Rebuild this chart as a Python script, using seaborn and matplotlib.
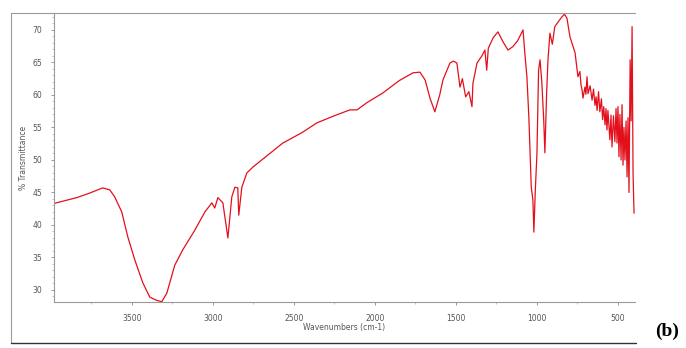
import matplotlib
matplotlib.use("Agg")
import matplotlib.pyplot as plt
import seaborn as sns
import pandas as pd
from matplotlib.lines import Line2D

wavenumbers = [3981, 3840, 3760, 3680, 3636, 3605, 3562, 3525, 3481, 3432, 3389, 3346, 3315,
               3284, 3235, 3185, 3111, 3049, 3006, 2988, 2969, 2938, 2907, 2883, 2864, 2846,
               2840, 2821, 2790, 2753, 2648, 2568, 2450, 2358, 2250, 2154, 2110, 2050, 1951,
               1850, 1765, 1722, 1690, 1660, 1630, 1600, 1580, 1537, 1515, 1494, 1475, 1460,
               1440, 1420, 1401, 1395, 1370, 1340, 1321, 1310, 1300, 1270, 1241, 1210, 1179,
               1150, 1120, 1086, 1075, 1062, 1050, 1035, 1025, 1019, 1010, 1000, 990, 981,
               970, 958, 951, 940, 932, 920, 905, 890, 870, 846, 830, 815, 796, 765, 747,
               735, 728, 722, 716, 704, 698, 691, 685, 672, 660,
               651, 642, 635, 629, 620, 612, 602, 595, 588, 580,
               574, 568, 562, 550, 543, 537, 528, 519, 512, 506,
               500, 494, 488, 481, 475, 469, 463, 457, 450, 444,
               438, 432, 425, 419, 413, 407, 401]
transmittance = [43.3, 44.2, 44.9, 45.7, 45.4, 44.3, 42.0, 38.2, 34.6, 31.1, 28.9, 28.4, 28.2,
                 29.5, 33.8, 36.2, 39.2, 42.0, 43.4, 42.6, 44.2, 43.4, 38.0, 44.3, 45.8, 45.7,
                 41.5, 45.8, 48.0, 48.9, 51.0, 52.6, 54.2, 55.7, 56.8, 57.7, 57.7, 58.8, 60.3,
                 62.2, 63.4, 63.5, 62.3, 59.5, 57.4, 60.0, 62.3, 64.9, 65.2, 64.9, 61.2, 62.5,
                 59.7, 60.5, 58.2, 61.8, 64.9, 66.0, 66.9, 63.8, 67.2, 68.8, 69.7, 68.2, 66.9,
                 67.4, 68.3, 70.0, 66.5, 62.8, 56.6, 45.8, 43.8, 38.9, 45.4, 51.0, 63.8, 65.4,
                 62.0, 56.0, 51.1, 60.5, 65.4, 69.5, 67.8, 70.5, 71.2, 72.0, 72.4, 71.8, 68.9,
                 66.5, 62.8,
                 63.6, 61.5, 60.8, 59.5, 61.2, 60.1, 62.8, 60.2, 61.4, 59.2,
                 60.9, 58.4, 59.7, 57.6, 60.5, 57.4, 59.4, 56.2, 58.2, 55.4,
                 57.9, 54.6, 57.6, 53.1, 56.9, 52.0, 56.8, 52.8, 57.9, 52.6,
                 58.2, 50.5, 57.0, 50.0, 58.5, 49.2, 55.0, 50.0, 56.0, 47.4,
                 56.5, 45.0, 65.4, 56.0, 70.5, 48.0, 41.8]

x_ticks = [3500, 3000, 2500, 2000, 1500, 1000, 500]
y_ticks = [30, 35, 40, 45, 50, 55, 60, 65, 70]

n = min(len(wavenumbers), len(transmittance))
df = pd.DataFrame({"wn": wavenumbers[:n], "T": transmittance[:n]})

sns.set_style("white")
fig = plt.figure(figsize=(6.86, 3.48), dpi=100)
ax = fig.add_axes([54/686, 1-302/348, (635-54)/686, (302-13)/348])

sns.lineplot(data=df, x="wn", y="T", ax=ax, sort=False, estimator=None,
             color="#e3101c", linewidth=0.9)

ax.set_xlim(3980, 395)
ax.set_ylim(28.15, 72.6)
ax.set_xticks(x_ticks)
ax.set_xticklabels([str(v) for v in x_ticks])
ax.set_yticks(y_ticks)
ax.set_yticklabels([str(v) for v in y_ticks])
ax.set_xticks([3750, 3250, 2750, 2250, 1750, 1250, 750], minor=True)
ax.set_yticks([v for v in range(29, 73) if v % 5 != 0], minor=True)
ax.tick_params(axis="both", which="major", labelsize=5.5, labelcolor="#555555",
               color="#888888", length=2.5, width=0.6, pad=6,
               bottom=True, left=True)
ax.tick_params(axis="both", which="minor", color="#aaaaaa", length=1.5, width=0.5,
               bottom=True, left=True)

for s in ["left", "bottom", "top"]:
    ax.spines[s].set_color("#9a9a9a")
    ax.spines[s].set_linewidth(0.8)
ax.spines["right"].set_visible(False)

ax.set_xlabel("Wavenumbers (cm-1)", fontsize=5.5, color="#555555", labelpad=0)
ax.set_ylabel("% Transmittance", fontsize=5.5, color="#555555", labelpad=3)

# outer frame
fig.add_artist(Line2D([11/686, 11/686], [1-13/348, 1-343/348], transform=fig.transFigure,
                      color="#9a9a9a", linewidth=0.8))
fig.add_artist(Line2D([11/686, 54/686], [1-13/348, 1-13/348], transform=fig.transFigure,
                      color="#9a9a9a", linewidth=0.8))
fig.add_artist(Line2D([11/686, 636/686], [1-343/348, 1-343/348], transform=fig.transFigure,
                      color="#333333", linewidth=1.0))

fig.text(667/686, 1-331/348, "(b)", fontsize=14, fontweight="bold",
         family="Liberation Serif", ha="center", va="center", color="black")

fig.savefig("out.png", dpi=100)
